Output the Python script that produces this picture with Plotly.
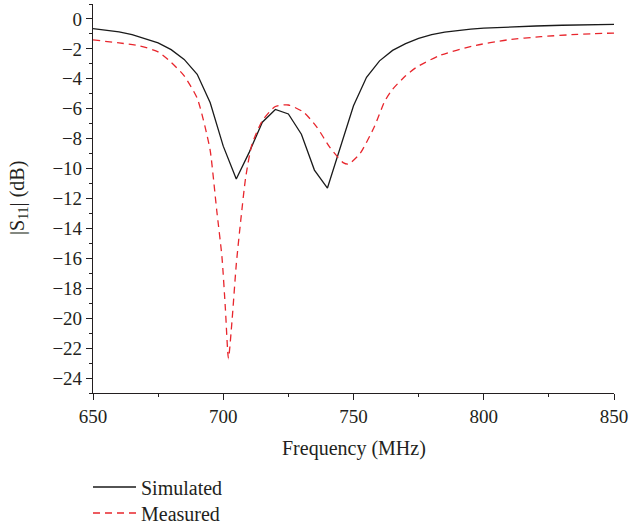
import plotly.graph_objects as go

# Simulated |S11| (dB)
sim_freq = [650, 655, 660, 665, 670, 675, 680, 685, 690, 695, 700, 705, 710, 715, 720, 725,
            730, 735, 740, 745, 750, 755, 760, 765, 770, 775, 780, 785, 790, 795, 800,
            810, 820, 830, 840, 850]
sim_s11 = [-0.65, -0.75, -0.87, -1.05, -1.3, -1.6, -2.05, -2.7, -3.7, -5.6, -8.5, -10.7, -8.9,
           -6.9, -6.05, -6.35, -7.7, -10.1, -11.3, -8.5, -5.8, -3.9, -2.8, -2.1, -1.65, -1.3,
           -1.05, -0.88, -0.77, -0.68, -0.61, -0.52, -0.47, -0.42, -0.39, -0.36]

# Measured |S11| (dB)
meas_freq = [650, 660, 668, 675, 680, 685, 690, 693, 695, 697.5, 699.5, 700.8, 702, 703.4,
             705, 706.7, 708.6, 711, 715, 720, 725, 731, 736, 741, 746, 748, 752.5, 758,
             762, 765, 770, 774, 783, 796, 809, 822, 836, 850]
meas_s11 = [-1.4, -1.6, -1.8, -2.2, -2.9, -3.8, -5.3, -7.2, -8.8, -12.8, -15.9, -19.3, -22.7,
            -20.1, -16.4, -13.5, -10.6, -8.4, -6.8, -5.85, -5.75, -6.25, -7.25, -8.6, -9.6,
            -9.7, -9.0, -7.2, -5.5, -4.7, -3.8, -3.25, -2.45, -1.8, -1.4, -1.18, -1.03, -0.94]

x_ticks = [650, 700, 750, 800, 850]
y_ticks = list(range(-24, 1, 2))

FONT = "Liberation Serif"
TXT = "#231f20"

fig = go.Figure()
fig.add_trace(go.Scatter(x=sim_freq, y=sim_s11, mode="lines", name="Simulated",
                         legend="legend",
                         line=dict(color="#1a1a1a", width=1.3)))
fig.add_trace(go.Scatter(x=meas_freq, y=meas_s11, mode="lines", name="Measured",
                         legend="legend2",
                         line=dict(color="#e8262d", width=1.3, dash="7px,5px", shape="spline",
                                   smoothing=0.6)))

axis_common = dict(showline=True, linecolor="#231f20", linewidth=1.2, ticks="outside",
                   ticklen=6, tickwidth=1.1, tickcolor="#231f20", showgrid=False,
                   zeroline=False, mirror=False, automargin=False,
                   tickfont=dict(family=FONT, size=19, color=TXT))

fig.update_xaxes(range=[650, 850], tickvals=x_ticks,
                 minor=dict(dtick=25, tick0=650, ticks="outside", ticklen=3, tickcolor="#231f20",
                            showgrid=False),
                 **axis_common)
fig.update_yaxes(range=[-25, 1], tickvals=y_ticks,
                 minor=dict(dtick=1, tick0=-25, ticks="outside", ticklen=3, tickcolor="#231f20",
                            showgrid=False),
                 **axis_common)

fig.add_annotation(text="Frequency (MHz)", xref="paper", yref="paper",
                   x=0.5, y=-(448 - 393) / 389, xanchor="center", yanchor="middle",
                   showarrow=False, font=dict(family=FONT, size=20, color=TXT))
fig.add_annotation(text="|S<sub>11</sub>| (dB)", xref="paper", yref="paper",
                   x=-(93 - 18.5) / 521, y=0.5, xanchor="center", yanchor="middle",
                   textangle=-90, showarrow=False, font=dict(family=FONT, size=20, color=TXT))

leg_common = dict(xanchor="left", yanchor="middle", itemwidth=43,
                  font=dict(family=FONT, size=20, color=TXT), bgcolor="rgba(0,0,0,0)")

fig.update_layout(
    width=629, height=527,
    margin=dict(l=93, r=15, t=4, b=134, autoexpand=False),
    paper_bgcolor="white", plot_bgcolor="white",
    showlegend=True,
    legend=dict(x=-5 / 521, y=-(487 - 393) / 389, **leg_common),
    legend2=dict(x=-5 / 521, y=-(513 - 393) / 389, **leg_common),
)

fig.write_html("out.html", config={"displayModeBar": False},
               post_script="document.body.style.margin='0';")
